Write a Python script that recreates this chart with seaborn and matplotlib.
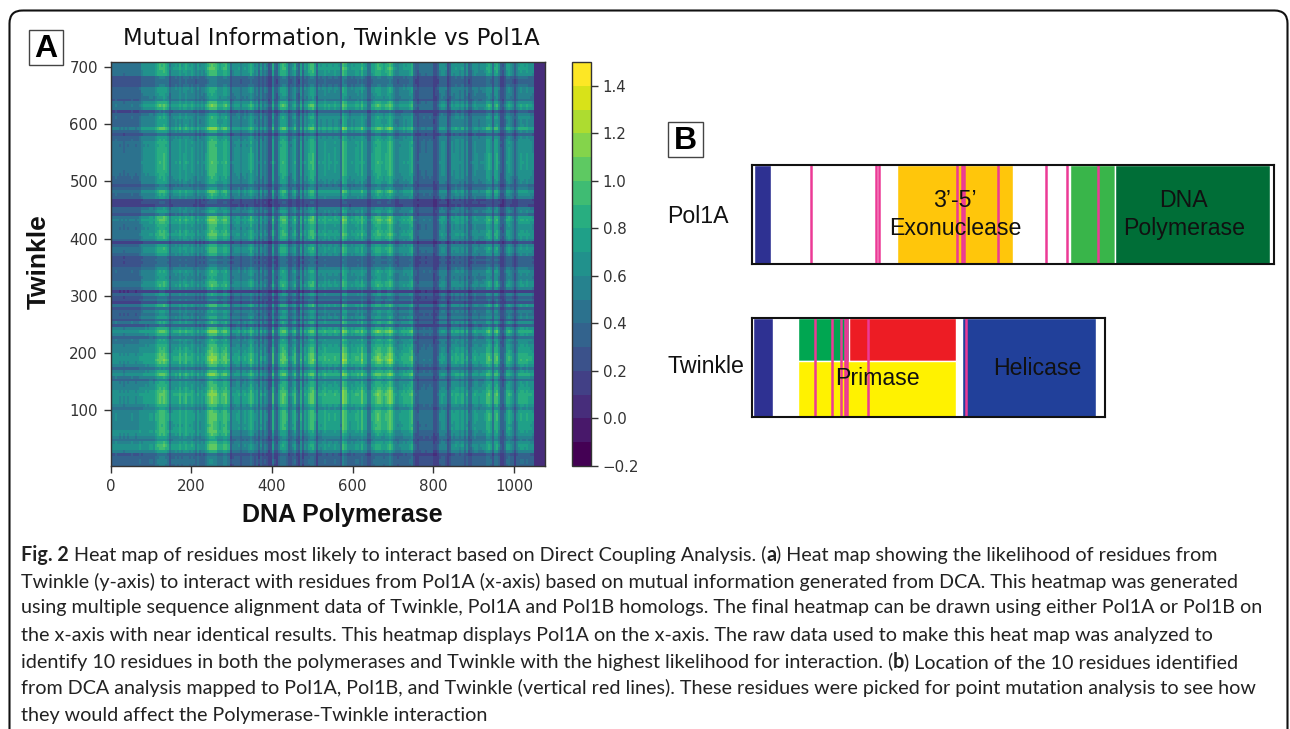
import matplotlib
matplotlib.use("Agg")
import matplotlib.pyplot as plt
from matplotlib.patches import FancyBboxPatch, Rectangle
import seaborn as sns
import numpy as np
import pandas as pd

# ------------------------------------------------------------------
# Panel A: profiles, one value per 5 residues
# ------------------------------------------------------------------
STEP = 5

# Twinkle rows, from residue 0 upwards
twinkle_levels = [
    .55, .58, .58, .55, .45, .80, 1.0, 1.02, .92, .70, .78, .95, 1.0, .92, .90, .92, .95, .95, .95, .92,
    .72, .85, 1.0, 1.0, 1.0, 1.05, .98, .90, .85, .82, .55, .78, 1.02, .85, .60, .85, 1.0, 1.08, 1.05, 1.0,
    .92, .90, .85, .75, .80, .55, .85, 1.05, .85, .42, .80, .50, .80, .65, .75, .50, .92, .35, .60, .45,
    .75, .22, .75, .95, .92, .78, .75, .80, .85, .70, .50, .45, .50, .45, .80, .90, .92, .80, .30, .80,
    .92, 1.0, .95, .88, .90, 1.0, 1.08, 1.02, .55, .78, .72, .28, .32, .30, .75, .85, .98, .70, .55, .78,
    .82, .85, .88, .90, .92, .92, .95, .92, .92, .92, .90, .90, .88, .90, .85, .80, .45, .80, 1.10, .82,
    .80, .80, .85, .72, .42, .92, 1.05, .90, .62, .72, .75, .78, .80, .55, .50, .50, .55, .90, .92, .98,
    .95, .98,
]

# Pol1A columns, from residue 0 to the right
pol_levels = [
    .72, .72, .75, .72, .70, .72, .68, .72, .70, .72, .75, .72, .70, .72,
    .78, .76, .78, .80, .78, .82, .82, .80,
    .95, 1.05, 1.12, 1.10, 1.15, 1.05, .95,
    .60, .82, .85, .88, .85, 1.0, .85, .90, 1.0, .88, .85, .92, .82,
    .68, .88, .72, .80, .75, .90,
    1.10, 1.22, 1.25, 1.20, 1.18, 1.0,
    .95, 1.0, 1.10, 1.12, .95, .50,
    .75, .78, .82, .85, .65, .80, .85, .78, .90, 1.05,
    .90, .72, .80, .50, .85, .55, .75, .60, .35, .38,
    1.0, .50, .45, .80, 1.05, 1.12, 1.10, .95, .55, .65,
    .85, 1.0, .60, .45, .95, .50, .88, .80, 1.02, 1.12,
    1.15, .95, .48, .88, .85, .88, .95, .85, .90, .88,
    .85, .92, .88, .85, .58, 1.20, 1.10, .85, .80, .88,
    .85, .92, .95, .88, 1.08, .88, .85, .55, .55, .90,
    .95, 1.05, 1.12, 1.10, 1.0, .95, 1.02, 1.10, 1.20, 1.08,
    .85, .72, .70, .78, .82, .88, .85, .88, .95, 1.05,
    .55, .50, .42, .58, .60, .62, .58, .60, .62, .60,
    .32, .35, .50, .85, .92, .90, .82, .35, .50, .85,
    .82, .90, .88, .78, .90, .62, .85, .48, .52, .78,
    .85, .82, .75, .78, .80, .82, 1.02, 1.08, .95, .58,
    1.02, 1.08, .78, .42, .38, .60, .92, .98, .85, .72,
    .45, .72, .90, .95, .92, .90, .95, .88, .85, .82,
]
tail_value = 0.06  # flat dark band past residue 1050
overall = 0.9

# broad regional shading (rows bottom to top, columns left to right)
region_row_edges = [60, 250, 480]
region_col_edges = [70, 290, 520, 750, 830]
region_shade = [
    [1.00, .95, .78, .85, .70, .85],
    [.95, 1.00, 1.00, 1.05, .85, 1.00],
    [.72, .95, .95, .95, .85, .90],
    [.72, .95, .95, .95, .85, .90],
]

x_ticks = [0, 200, 400, 600, 800, 1000]
y_ticks = [100, 200, 300, 400, 500, 600, 700]
cbar_ticks = [-0.2, 0.0, 0.2, 0.4, 0.6, 0.8, 1.0, 1.2, 1.4]

# ------------------------------------------------------------------
# Panel B: positions in percent of each bar's length
# ------------------------------------------------------------------
pol_start = [0.4, 27.8, 60.9, 69.5]
pol_end = [3.6, 50.0, 69.5, 99.2]
pol_color = ["#2E3192", "#FFC60B", "#39B54A", "#006E37"]
pol_sites = [11.3, 23.8, 24.3, 39.3, 40.2, 40.6, 47.1, 56.3, 60.3, 66.3]

twk_start = [0.3, 13.0, 27.5, 13.0, 59.5]
twk_end = [5.9, 27.5, 57.8, 57.8, 97.5]
twk_low = [0.0, 0.57, 0.57, 0.0, 0.0]
twk_high = [1.0, 1.0, 1.0, 0.57, 1.0]
twk_color = ["#2E3192", "#00A651", "#ED1C24", "#FFF200", "#21409A"]
twk_sites = [17.8, 22.7, 25.2, 26.3, 26.9, 32.9, 60.6]
SITE_COLOR = "#EC3A96"

caption = [
    [("Fig. 2", True), (" Heat map of residues most likely to interact based on Direct Coupling Analysis. (", False),
     ("a", True), (") Heat map showing the likelihood of residues from", False)],
    [("Twinkle (y-axis) to interact with residues from Pol1A (x-axis) based on mutual information generated from DCA. This heatmap was generated", False)],
    [("using multiple sequence alignment data of Twinkle, Pol1A and Pol1B homologs. The final heatmap can be drawn using either Pol1A or Pol1B on", False)],
    [("the x-axis with near identical results. This heatmap displays Pol1A on the x-axis. The raw data used to make this heat map was analyzed to", False)],
    [("identify 10 residues in both the polymerases and Twinkle with the highest likelihood for interaction. (", False), ("b", True),
     (") Location of the 10 residues identified", False)],
    [("from DCA analysis mapped to Pol1A, Pol1B, and Twinkle (vertical red lines). These residues were picked for point mutation analysis to see how", False)],
    [("they would affect the Polymerase-Twinkle interaction", False)],
]
caption_y = [555, 582, 608, 635, 662, 688, 715]
CAPTION_SIZE = 14.2

# ------------------------------------------------------------------
sns.set_style("ticks")
plt.rcParams["font.family"] = ["DejaVu Sans"]
W, H = 1290, 729
fig = plt.figure(figsize=(W / 100, H / 100), dpi=100)


def px_axes(x0, y0, x1, y1):
    return fig.add_axes([x0 / W, 1 - y1 / H, (x1 - x0) / W, (y1 - y0) / H])


# build the matrix from the profiles
rows = np.array(twinkle_levels)
cols = np.array(pol_levels + [1.0] * 6)
row_pos = np.arange(len(rows)) * STEP
col_pos = np.arange(len(cols)) * STEP
shade = np.array(region_shade)[np.searchsorted(region_row_edges, row_pos)][:, np.searchsorted(region_col_edges, col_pos)]
matrix = np.outer(rows, cols) * shade * overall
matrix[:, col_pos >= 1050] = tail_value
df = pd.DataFrame(matrix, index=row_pos, columns=col_pos)

ax = px_axes(110.5, 62, 545, 466)
cax = px_axes(572, 62, 591, 466)
sns.heatmap(df, ax=ax, cbar_ax=cax, cmap=plt.get_cmap("viridis", 17), vmin=-0.2, vmax=1.5,
            xticklabels=False, yticklabels=False)
ax.set_xlim(0, 215.4)
ax.set_ylim(0.4, 141.8)
ax.set_xticks([v / STEP for v in x_ticks], labels=[str(v) for v in x_ticks])
ax.set_yticks([v / STEP for v in y_ticks], labels=[str(v) for v in y_ticks])
ax.tick_params(axis="both", length=5, width=1, labelsize=10.8, labelcolor="#333333", color="#333333", pad=4)
ax.tick_params(axis="y", labelrotation=0)
for sp in ax.spines.values():
    sp.set_visible(True)
    sp.set_linewidth(1)
    sp.set_color("#333333")
ax.set_xlabel("")
ax.set_ylabel("")

cbar = ax.collections[0].colorbar
cbar.set_ticks(cbar_ticks, labels=[f"{v:.1f}".replace("-", "\u2212") for v in cbar_ticks])
cbar.ax.tick_params(length=5, width=1, labelsize=10.8, labelcolor="#333333", color="#333333")
cbar.outline.set_visible(True)
cbar.outline.set_linewidth(1)
cbar.outline.set_edgecolor("#333333")

# Panel B bars
pol_ax = px_axes(752, 165, 1274, 264)
pol_ax.barh(0, np.array(pol_end) - np.array(pol_start), left=pol_start, height=1, align="edge", color=pol_color)
pol_ax.vlines(pol_sites, 0, 1, color=SITE_COLOR, linewidth=1.8)

twk_ax = px_axes(752, 318, 1105, 417)
twk_ax.barh(twk_low, np.array(twk_end) - np.array(twk_start), left=twk_start,
            height=np.array(twk_high) - np.array(twk_low), align="edge", color=twk_color)
twk_ax.vlines(twk_sites, 0, 1, color=SITE_COLOR, linewidth=1.8)

for bar_ax in (pol_ax, twk_ax):
    bar_ax.set_xlim(0, 100)
    bar_ax.set_ylim(0, 1)
    bar_ax.set_xticks([])
    bar_ax.set_yticks([])
    for sp in bar_ax.spines.values():
        sp.set_linewidth(1.5)
        sp.set_color("#111111")

# page layer for frame, panel letters and free text
page = fig.add_axes([0, 0, 1, 1], zorder=10)
page.set_xlim(0, W)
page.set_ylim(H, 0)
page.axis("off")
page.patch.set_alpha(0)

page.add_patch(FancyBboxPatch((9.5, 10.5), 1278, 800, boxstyle="round,pad=0,rounding_size=13",
                              fill=False, edgecolor="#111111", linewidth=1.5, clip_on=True))

ARIAL = "Liberation Sans"
for letter, x0, y0, x1, y1 in [("A", 29, 30, 63, 65), ("B", 668, 122, 703, 157)]:
    page.add_patch(Rectangle((x0, y0), x1 - x0, y1 - y0, fill=False, edgecolor="#444444", linewidth=1))
    page.text((x0 + x1) / 2, (y0 + y1) / 2 + 1, letter, family=ARIAL, weight="bold", fontsize=23,
              ha="center", va="center", color="black")

page.text(331, 38, "Mutual Information, Twinkle vs Pol1A", fontsize=16.4, ha="center", va="center", color="#111111")
page.text(342, 515, "DNA Polymerase", family=ARIAL, weight="bold", fontsize=18, ha="center", va="center", color="#111111")
page.text(39, 262, "Twinkle", family=ARIAL, weight="bold", fontsize=19, rotation=90, ha="center", va="center", color="#111111")

page.text(667, 216, "Pol1A", family=ARIAL, fontsize=16.7, va="center", color="#111111")
page.text(667, 366, "Twinkle", family=ARIAL, fontsize=16.7, va="center", color="#111111")
for s, x, y in [("3\u2019-5\u2019", 955, 200), ("Exonuclease", 955, 228), ("DNA", 1183, 200), ("Polymerase", 1184, 228),
                ("Primase", 877, 378), ("Helicase", 1037, 368)]:
    page.text(x, y, s, family=ARIAL, fontsize=16.7, ha="center", va="center", color="#111111")

# caption, drawn run by run so the bold pieces sit in line
fig.canvas.draw()
renderer = fig.canvas.get_renderer()
for runs, y in zip(caption, caption_y):
    x = 21
    for s, bold in runs:
        weight = "bold" if bold else "normal"
        page.text(x, y, s, family="Lato", weight=weight, fontsize=CAPTION_SIZE, va="center", ha="left", color="#222222")
        # non-breaking spaces so the run ends count when measuring
        probe = page.text(0, 0, s.replace(" ", "\u00a0"), family="Lato", weight=weight, fontsize=CAPTION_SIZE)
        x += probe.get_window_extent(renderer).width
        probe.remove()

fig.savefig("out.png", dpi=100)
